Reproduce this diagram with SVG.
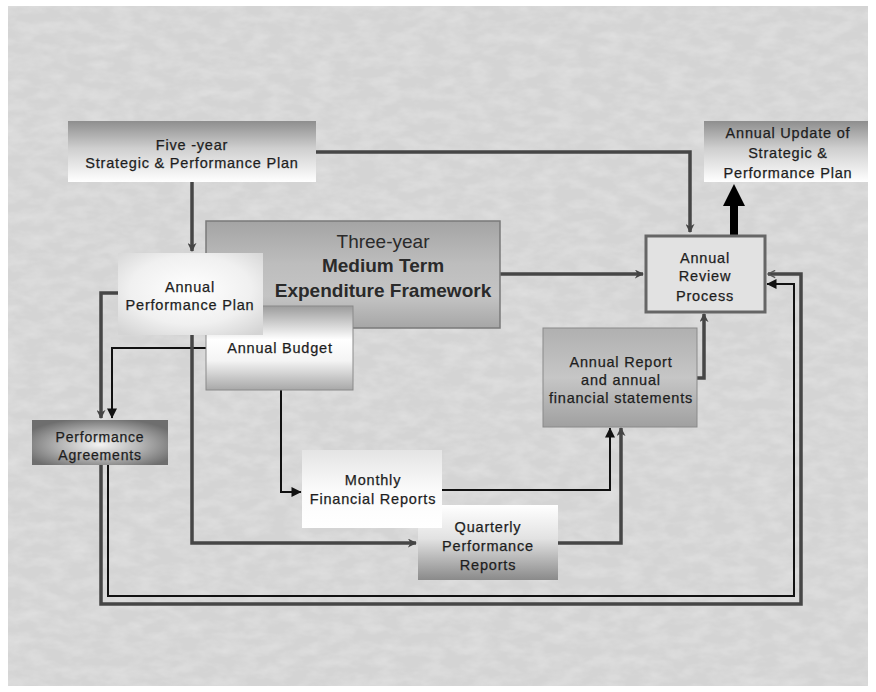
<svg xmlns="http://www.w3.org/2000/svg" width="876" height="692" viewBox="0 0 876 692">
<style>
.t{font-family:"Liberation Sans",Arial,sans-serif;font-size:14.5px;letter-spacing:0.8px;fill:#1e1e1e;stroke:#1e1e1e;stroke-width:0.25;text-anchor:middle}
.big{font-family:"Liberation Sans",Arial,sans-serif;font-size:19px;fill:#2a2a2a;text-anchor:middle}
.b{font-weight:bold}
.g{fill:none;stroke:#464646;stroke-width:3.5}
.k{fill:none;stroke:#111;stroke-width:2}
</style>
<defs>
<filter id="tex" x="0" y="0" width="100%" height="100%">
<feTurbulence type="fractalNoise" baseFrequency="0.045 0.09" numOctaves="3" seed="5"/>
<feColorMatrix type="matrix" values="0 0 0 0 1  0 0 0 0 1  0 0 0 0 1  0.9 0 0 0 -0.3"/>
</filter>
<marker id="ag" viewBox="0 0 10 10" refX="9" refY="5" markerUnits="userSpaceOnUse" markerWidth="9" markerHeight="9" orient="auto"><path d="M0,0 L10,5 L0,10 L3,5 Z" fill="#444"/></marker>
<marker id="ak" viewBox="0 0 10 10" refX="9.5" refY="5" markerUnits="userSpaceOnUse" markerWidth="14" markerHeight="10" orient="auto"><path d="M0,0 L10,5 L0,10 Z" fill="#111"/></marker>
<marker id="ao" viewBox="0 0 10 10" refX="9" refY="5" markerUnits="userSpaceOnUse" markerWidth="9" markerHeight="9" orient="auto"><path d="M1,1 L9,5 L1,9" fill="none" stroke="#555" stroke-width="1.5"/></marker>
<linearGradient id="gTopDark" x1="0" y1="0" x2="0" y2="1"><stop offset="0" stop-color="#8e8e8e"/><stop offset="0.45" stop-color="#cfcfcf"/><stop offset="1" stop-color="#ffffff"/></linearGradient>
<linearGradient id="gMtef" x1="0" y1="0" x2="0" y2="1"><stop offset="0" stop-color="#a4a4a4"/><stop offset="0.4" stop-color="#bdbdbd"/><stop offset="0.7" stop-color="#c4c4c4"/><stop offset="1" stop-color="#a6a6a6"/></linearGradient>
<radialGradient id="gApp" cx="0.5" cy="0.45" r="0.7"><stop offset="0" stop-color="#ffffff"/><stop offset="0.6" stop-color="#f0f0f0"/><stop offset="1" stop-color="#d4d4d4"/></radialGradient>
<linearGradient id="gBud" x1="0" y1="0" x2="0" y2="1"><stop offset="0" stop-color="#9c9c9c"/><stop offset="0.4" stop-color="#ffffff"/><stop offset="0.65" stop-color="#f4f4f4"/><stop offset="1" stop-color="#a8a8a8"/></linearGradient>
<radialGradient id="gPa" cx="0.5" cy="0.55" r="0.6"><stop offset="0" stop-color="#f4f4f4"/><stop offset="0.5" stop-color="#b4b4b4"/><stop offset="1" stop-color="#6e6e6e"/></radialGradient>
<linearGradient id="gRep" x1="0" y1="0" x2="0" y2="1"><stop offset="0" stop-color="#b0b0b0"/><stop offset="0.5" stop-color="#c6c6c6"/><stop offset="1" stop-color="#a0a0a0"/></linearGradient>
<linearGradient id="gMon" x1="0" y1="0" x2="0" y2="1"><stop offset="0" stop-color="#e4e4e4"/><stop offset="0.5" stop-color="#fafafa"/><stop offset="1" stop-color="#ffffff"/></linearGradient>
<linearGradient id="gQua" x1="0" y1="0" x2="0" y2="1"><stop offset="0" stop-color="#ffffff"/><stop offset="0.45" stop-color="#e2e2e2"/><stop offset="1" stop-color="#8a8a8a"/></linearGradient>
</defs>
<rect x="0" y="0" width="876" height="692" fill="#ffffff"/>
<rect x="8" y="6" width="860" height="680" fill="#d4d4d4"/>
<rect x="8" y="6" width="860" height="680" filter="url(#tex)" opacity="0.5"/>

<g id="connectors">
<path class="g" d="M316,152 H690 V232" marker-end="url(#ag)"/>
<path class="g" d="M192,182 V251" marker-end="url(#ag)"/>
<path class="g" d="M500,274 H643" marker-end="url(#ag)"/>
<path class="g" d="M118,293 H101 V418" marker-end="url(#ag)"/>
<path class="k" d="M206,348 H112 V418" marker-end="url(#ak)"/>
<path class="g" d="M192,335 V543 H416" marker-end="url(#ag)"/>
<path class="k" d="M281,390 V492 H301" marker-end="url(#ak)"/>
<path class="k" d="M442,490 H610 V428" marker-end="url(#ak)"/>
<path class="g" d="M558,543 H621 V428" marker-end="url(#ag)"/>
<path class="g" d="M697,378 H704 V314" marker-end="url(#ag)"/>
<path class="g" d="M101,465 V604 H801 V274 H768" stroke-width="4" marker-end="url(#ao)"/>
<path class="k" d="M108,465 V596 H794 V284 H767" marker-end="url(#ak)"/>
<rect x="730" y="203" width="8" height="33" fill="#000"/>
<polygon points="723,206 745,206 734,184" fill="#000"/>
</g>

<g id="five-year">
<rect x="68" y="121" width="248" height="61" fill="url(#gTopDark)"/>
<text class="t" x="192" y="150">Five -year</text>
<text class="t" x="192" y="168">Strategic &amp; Performance Plan</text>
</g>

<g id="annual-update">
<rect x="704" y="121" width="164" height="61" fill="url(#gTopDark)"/>
<text class="t" x="788" y="138">Annual Update of</text>
<text class="t" x="788" y="158">Strategic &amp;</text>
<text class="t" x="788" y="178">Performance Plan</text>
</g>

<g id="annual-review">
<rect x="646" y="236" width="119" height="76" fill="#e2e2e2" stroke="#666" stroke-width="3"/>
<text class="t" x="705" y="263">Annual</text>
<text class="t" x="705" y="281">Review</text>
<text class="t" x="705" y="301">Process</text>
</g>

<g id="mtef">
<rect x="206" y="221" width="294" height="107" fill="url(#gMtef)" stroke="#7a7a7a" stroke-width="1.5"/>
<text class="big" x="383" y="248">Three-year</text>
<text class="big b" x="383" y="272">Medium Term</text>
<text class="big b" x="383" y="297">Expenditure Framework</text>
</g>

<g id="annual-budget">
<rect x="206" y="306" width="147" height="84" fill="url(#gBud)" stroke="#8a8a8a" stroke-width="1"/>
<text class="t" x="280" y="353">Annual Budget</text>
</g>

<g id="annual-performance-plan">
<rect x="118" y="253" width="145" height="82" fill="url(#gApp)"/>
<text class="t" x="190" y="292">Annual</text>
<text class="t" x="190" y="310">Performance Plan</text>
</g>

<g id="performance-agreements">
<rect x="32" y="420" width="136" height="45" fill="url(#gPa)"/>
<text class="t" x="100" y="442" style="font-size:14px">Performance</text>
<text class="t" x="100" y="460" style="font-size:14px">Agreements</text>
</g>

<g id="annual-report">
<rect x="543" y="328" width="154" height="99" fill="url(#gRep)" stroke="#8a8a8a" stroke-width="1"/>
<text class="t" x="621" y="367">Annual Report</text>
<text class="t" x="621" y="385">and annual</text>
<text class="t" x="621" y="403">financial statements</text>
</g>

<g id="quarterly">
<rect x="418" y="505" width="140" height="75" fill="url(#gQua)"/>
<text class="t" x="488" y="532">Quarterly</text>
<text class="t" x="488" y="551">Performance</text>
<text class="t" x="488" y="570">Reports</text>
</g>

<g id="monthly">
<rect x="302" y="450" width="140" height="78" fill="url(#gMon)"/>
<text class="t" x="373" y="485">Monthly</text>
<text class="t" x="373" y="504">Financial Reports</text>
</g>
</svg>
